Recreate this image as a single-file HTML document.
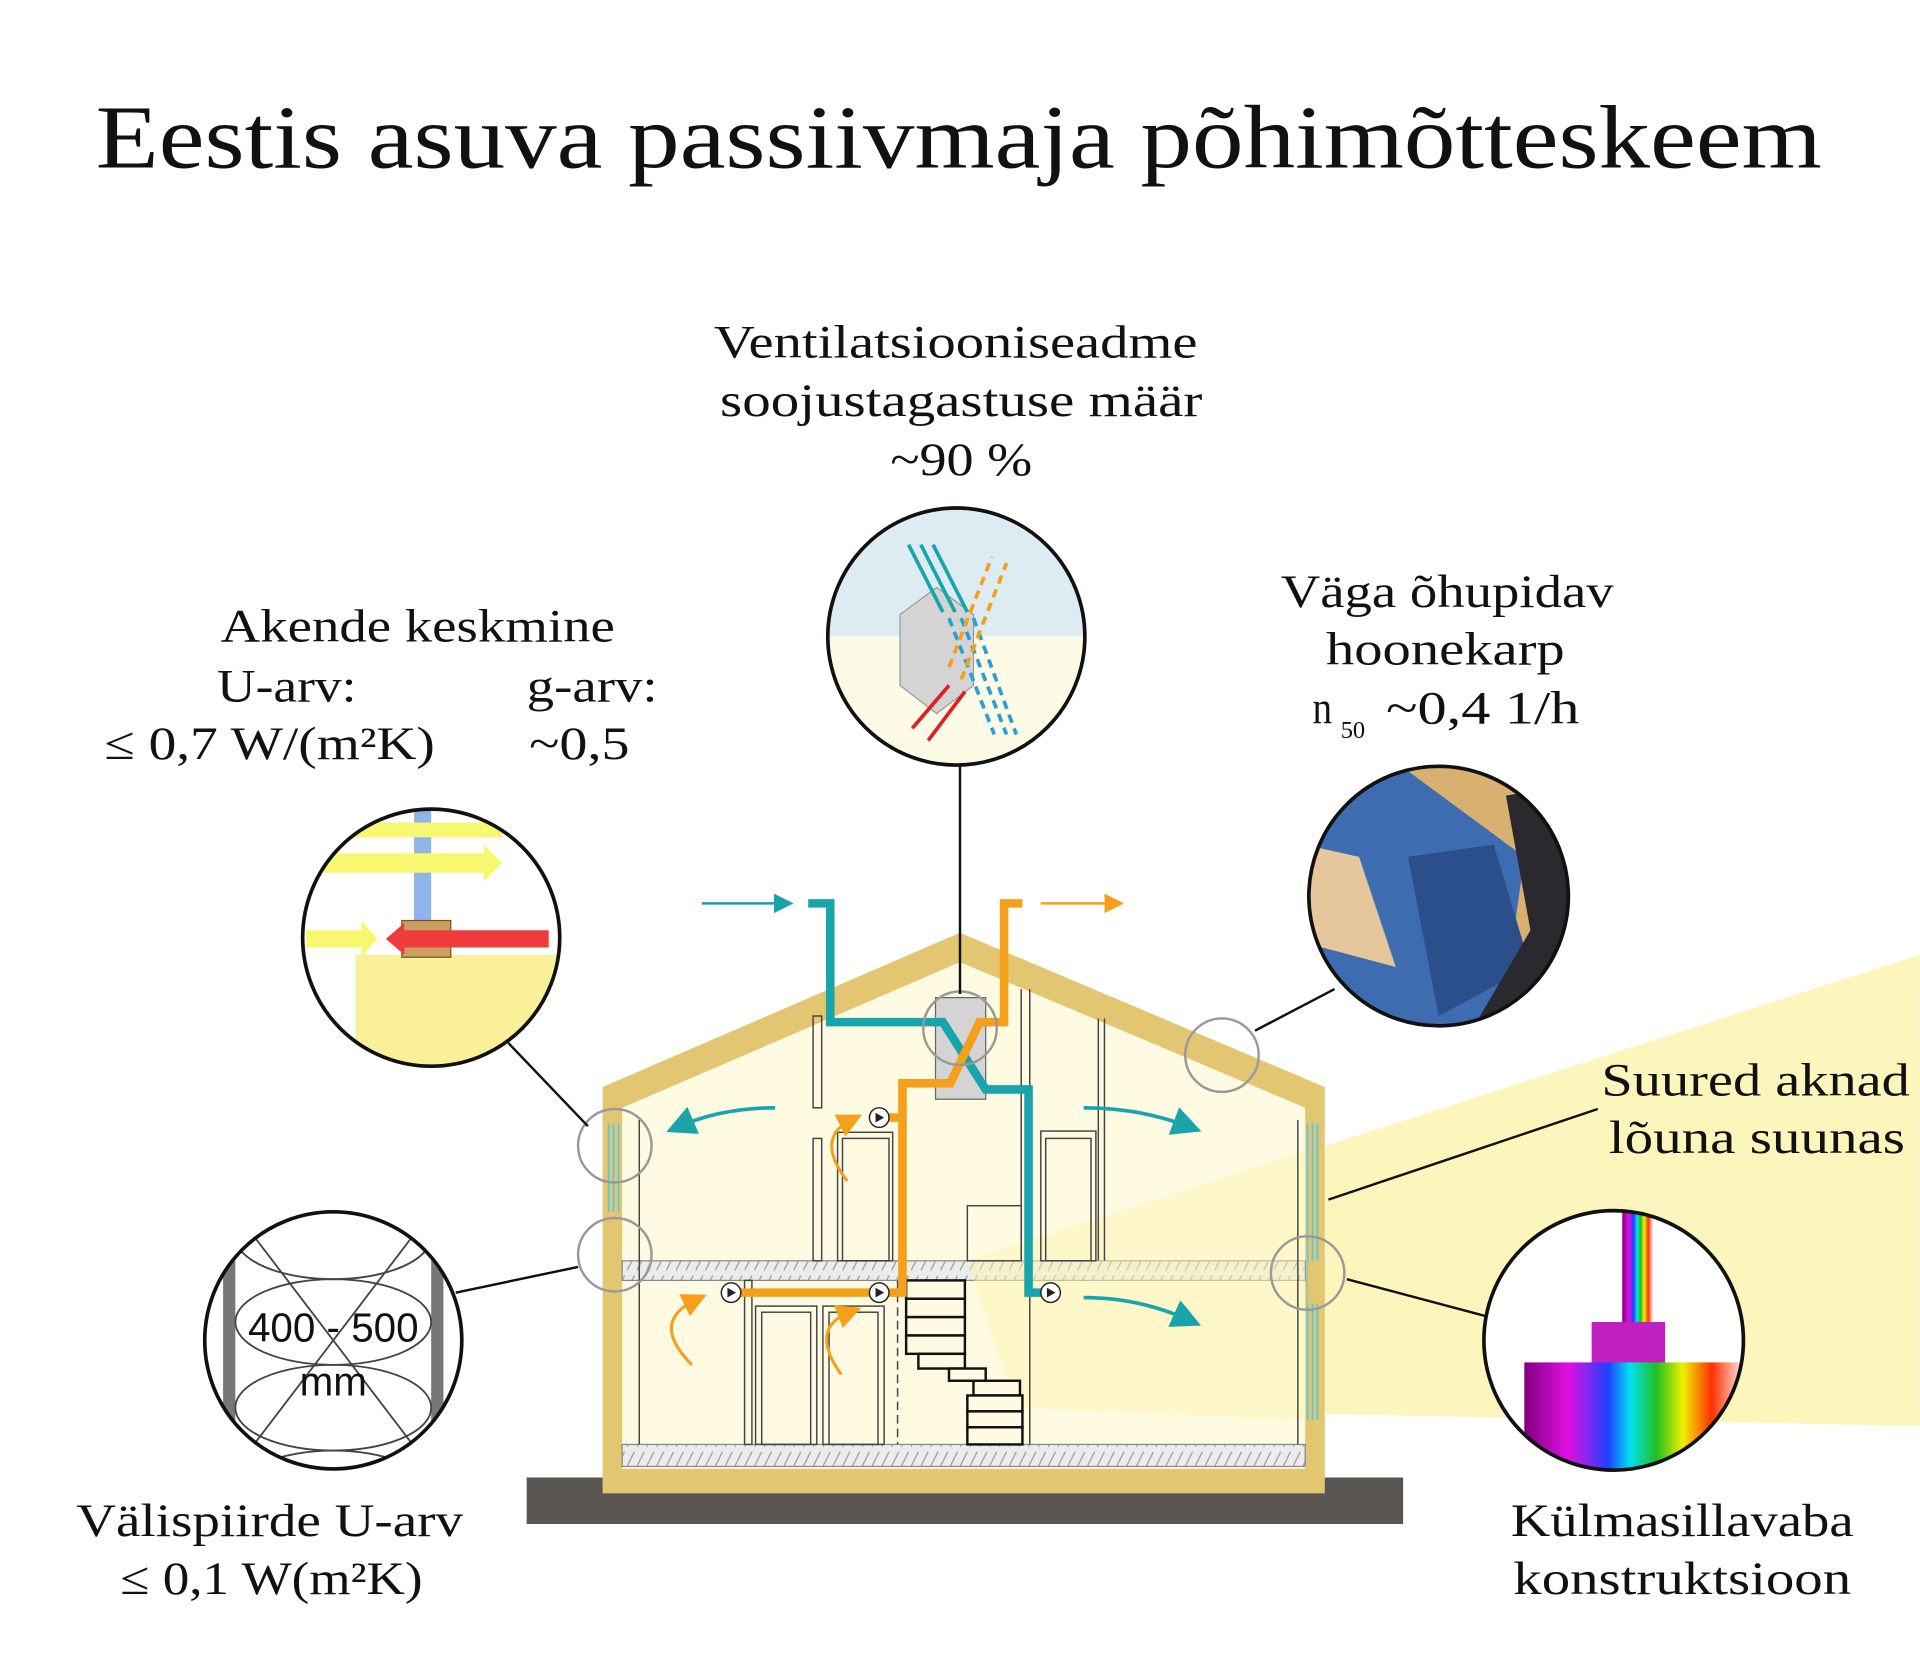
<!DOCTYPE html>
<html><head><meta charset="utf-8"><style>
html,body{margin:0;padding:0;background:#fff}
svg{display:block}
.t{font-family:"Liberation Serif",serif;fill:#111}
</style></head><body>
<svg width="1920" height="1677" viewBox="0 0 1568 1370" xmlns="http://www.w3.org/2000/svg">
<defs>
<pattern id="h" width="8" height="16" patternUnits="userSpaceOnUse"><rect width="8" height="16" fill="#ececec"/><line x1="0" y1="14" x2="6" y2="2" stroke="#999" stroke-width="1"/></pattern>
<clipPath id="c1"><circle cx="781" cy="520" r="105"/></clipPath>
<clipPath id="c2"><circle cx="352" cy="766" r="105"/></clipPath>
<clipPath id="c3"><circle cx="1175" cy="732" r="106"/></clipPath>
<clipPath id="c4"><circle cx="1318" cy="1095" r="106"/></clipPath>
<clipPath id="c5"><circle cx="272" cy="1095" r="105"/></clipPath>
<linearGradient id="rb" x1="0" x2="1" y1="0" y2="0">
<stop offset="0" stop-color="#800080"/><stop offset="0.2" stop-color="#e010e0"/><stop offset="0.38" stop-color="#2040ff"/><stop offset="0.48" stop-color="#00e0f0"/><stop offset="0.6" stop-color="#20c020"/><stop offset="0.72" stop-color="#f0f000"/><stop offset="0.85" stop-color="#ff3000"/><stop offset="1" stop-color="#fff0f0"/></linearGradient>
<marker id="at" markerWidth="8" markerHeight="8" refX="4" refY="4" orient="auto" markerUnits="strokeWidth"><path d="M0,0L8,4L0,8z" fill="#1aa3a8"/></marker>
<marker id="ao" markerWidth="8" markerHeight="8" refX="4" refY="4" orient="auto" markerUnits="strokeWidth"><path d="M0,0L8,4L0,8z" fill="#f5a01a"/></marker>
</defs>

<text class="t" x="78" y="137" font-size="74" textLength="1410" lengthAdjust="spacingAndGlyphs">Eestis asuva passiivmaja põhimõtteskeem</text>

<polygon points="790,1030 1568,780 1568,1165 830,1150" fill="#fcf3b0" opacity="0.85"/>

<rect x="430" y="1207" width="716" height="38" fill="#595553"/>
<polygon points="492,888 784,762 1082,888 1082,1220 492,1220" fill="#e2c672"/>
<polygon points="508,905 784,786 1066,905 1066,1200 508,1200" fill="#fffbe3"/>
<rect x="508" y="1030" width="558" height="16" fill="url(#h)" stroke="#888" stroke-width="1"/>
<rect x="508" y="1180" width="558" height="18" fill="url(#h)" stroke="#888" stroke-width="1"/>
<polygon points="790,1030 1066,940 1066,1160 830,1150" fill="#fcf3b0" opacity="0.5"/>
<g stroke="#5cc8e0" stroke-width="1.5"><line x1="497" y1="918" x2="497" y2="990"/><line x1="501" y1="918" x2="501" y2="990"/><line x1="505" y1="918" x2="505" y2="990"/>
<line x1="1068" y1="918" x2="1068" y2="1160"/><line x1="1072" y1="918" x2="1072" y2="1160"/><line x1="1076" y1="918" x2="1076" y2="1160"/></g>
<rect x="1068" y="1030" width="12" height="35" fill="#e2c672"/>
<g stroke="#444" stroke-width="1.2" fill="none">
<line x1="522" y1="915" x2="522" y2="1180"/><line x1="1060" y1="915" x2="1060" y2="1180"/>
<rect x="664" y="830" width="7" height="75"/><rect x="664" y="930" width="7" height="100"/>
<rect x="684" y="925" width="45" height="105"/><rect x="688" y="930" width="38" height="100"/>
<rect x="850" y="924" width="45" height="106"/><rect x="854" y="930" width="37" height="100"/>
<rect x="790" y="985" width="44" height="45"/>
<line x1="834" y1="808" x2="834" y2="1030"/><line x1="841" y1="808" x2="841" y2="1030"/>
<line x1="897" y1="832" x2="897" y2="1030"/><line x1="902" y1="832" x2="902" y2="1030"/>
<rect x="608" y="1046" width="6" height="134"/><rect x="617" y="1067" width="50" height="113"/><rect x="622" y="1072" width="40" height="108"/>
<rect x="672" y="1067" width="50" height="113"/><rect x="677" y="1072" width="40" height="108"/>
<line x1="733" y1="1046" x2="733" y2="1180" stroke-dasharray="7 4"/>
<line x1="841" y1="1046" x2="841" y2="1180"/>
</g>
<g stroke="#111" stroke-width="2" fill="#fffbe3">
<rect x="740" y="1046" width="48" height="15"/><rect x="740" y="1061" width="48" height="15"/><rect x="740" y="1076" width="48" height="15"/><rect x="740" y="1091" width="48" height="15"/>
<rect x="750" y="1106" width="38" height="12"/><rect x="775" y="1118" width="30" height="10"/><rect x="795" y="1128" width="38" height="12"/>
<rect x="790" y="1140" width="45" height="13"/><rect x="790" y="1153" width="45" height="13"/><rect x="790" y="1166" width="45" height="14"/>
</g>
<rect x="764" y="815" width="41" height="83" fill="#d4d4d4" stroke="#666"/>
<polyline points="660,738 678,738 678,835 770,835 805,890 840,890 840,1056 852,1056" fill="none" stroke="#17a4aa" stroke-width="7"/>
<polyline points="835,738 820,738 820,835 800,835 776,885 737,885 737,1056 600,1056" fill="none" stroke="#f5a01a" stroke-width="7"/>
<line x1="725" y1="913" x2="737" y2="913" stroke="#f5a01a" stroke-width="7"/>
<line x1="573" y1="738" x2="640" y2="738" stroke="#17a4aa" stroke-width="2" marker-end="url(#at)"/>
<line x1="850" y1="738" x2="910" y2="738" stroke="#f5a01a" stroke-width="2" marker-end="url(#ao)"/>
<g fill="#fff" stroke="#222" stroke-width="1.2">
<circle cx="718" cy="913" r="8"/><circle cx="597" cy="1056" r="8"/><circle cx="718" cy="1056" r="8"/><circle cx="858" cy="1056" r="8"/></g>
<g fill="#222"><path d="M715,909L722,913L715,917z"/><path d="M594,1052L601,1056L594,1060z"/><path d="M715,1052L722,1056L715,1060z"/><path d="M855,1052L862,1056L855,1060z"/></g>
<g fill="none" stroke-width="3">
<path d="M633,905 Q590,905 555,920" stroke="#17a4aa" marker-end="url(#at)"/>
<path d="M885,905 Q930,905 970,920" stroke="#17a4aa" marker-end="url(#at)"/>
<path d="M885,1060 Q930,1060 970,1078" stroke="#17a4aa" marker-end="url(#at)"/>
<path d="M692,965 Q665,930 695,915" stroke="#f5a01a" stroke-width="2.5" marker-end="url(#ao)"/>
<path d="M565,1115 Q530,1080 568,1062" stroke="#f5a01a" stroke-width="2.5" marker-end="url(#ao)"/>
<path d="M687,1123 Q660,1085 694,1072" stroke="#f5a01a" stroke-width="2.5" marker-end="url(#ao)"/>
</g>
<g fill="none" stroke="#999" stroke-width="2">
<circle cx="502" cy="936" r="30"/><circle cx="502" cy="1025" r="30"/><circle cx="784" cy="840" r="30"/><circle cx="998" cy="862" r="30"/><circle cx="1068" cy="1040" r="30"/></g>

<g stroke="#111" stroke-width="2">
<line x1="784" y1="626" x2="784" y2="812"/>
<line x1="415" y1="852" x2="480" y2="920"/>
<line x1="1090" y1="808" x2="1025" y2="842"/>
<line x1="1085" y1="980" x2="1305" y2="906"/>
<line x1="1100" y1="1045" x2="1213" y2="1075"/>
<line x1="372" y1="1056" x2="472" y2="1035"/>
</g>

<g clip-path="url(#c1)">
<rect x="670" y="410" width="230" height="110" fill="#dcecf2"/><rect x="670" y="520" width="230" height="110" fill="#fdfae6"/>
<polygon points="735,502 765,480 795,502 795,560 765,583 735,560" fill="#d4d4d4" stroke="#999"/>
<g stroke="#17a4aa" stroke-width="3"><line x1="742" y1="445" x2="770" y2="500"/><line x1="752" y1="445" x2="780" y2="500"/><line x1="762" y1="445" x2="790" y2="500"/></g>
<g stroke="#2a9fd6" stroke-width="3" stroke-dasharray="7 5"><line x1="775" y1="505" x2="812" y2="600"/><line x1="785" y1="505" x2="822" y2="600"/><line x1="795" y1="505" x2="830" y2="600"/></g>
<g stroke="#e02020" stroke-width="3"><line x1="745" y1="595" x2="775" y2="560"/><line x1="758" y1="605" x2="788" y2="565"/></g>
<g stroke="#f5a01a" stroke-width="3" stroke-dasharray="7 5"><line x1="775" y1="545" x2="810" y2="455"/><line x1="785" y1="555" x2="822" y2="460"/></g>
</g>
<circle cx="781" cy="520" r="105" fill="none" stroke="#111" stroke-width="3"/>

<g clip-path="url(#c2)">
<rect x="245" y="660" width="215" height="215" fill="#fff"/>
<rect x="290" y="780" width="170" height="100" fill="#fbf09a"/>
<rect x="338" y="660" width="14" height="100" fill="#8fb4e8"/>
<rect x="250" y="672" width="160" height="12" fill="#f8f870"/>
<polygon points="250,697 395,697 395,690 410,705 395,720 395,713 250,713" fill="#f8f870"/>
<polygon points="250,760 295,760 295,752 308,767 295,782 295,774 250,774" fill="#f8f870"/>
<rect x="328" y="752" width="40" height="30" fill="#c9a060" stroke="#7a5020"/>
<polygon points="448,760 330,760 330,754 315,767 330,780 330,774 448,774" fill="#ef3b3b"/>
</g>
<circle cx="352" cy="766" r="105" fill="none" stroke="#111" stroke-width="3"/>

<g clip-path="url(#c3)">
<rect x="1065" y="620" width="220" height="225" fill="#d8b070"/>
<polygon points="1065,650 1150,630 1245,700 1225,845 1120,845 1065,780" fill="#3d6db0"/>
<polygon points="1150,700 1220,690 1250,790 1175,830" fill="#2a4f8a"/>
<polygon points="1230,650 1285,640 1285,845 1200,845 1250,760" fill="#2a2a2e"/>
<polygon points="1065,690 1110,700 1140,790 1065,770" fill="#e6c79b"/>
</g>
<circle cx="1175" cy="732" r="106" fill="none" stroke="#111" stroke-width="3"/>

<g clip-path="url(#c4)">
<rect x="1210" y="985" width="220" height="220" fill="#fff"/>
<rect x="1325" y="985" width="25" height="120" fill="url(#rb)"/>
<rect x="1300" y="1080" width="60" height="40" fill="#c020c0"/>
<rect x="1245" y="1113" width="180" height="95" fill="url(#rb)"/>
</g>
<circle cx="1318" cy="1095" r="106" fill="none" stroke="#111" stroke-width="3"/>

<g clip-path="url(#c5)">
<rect x="165" y="990" width="215" height="215" fill="#fff"/>
<rect x="182" y="990" width="10" height="215" fill="#777"/>
<rect x="352" y="990" width="10" height="215" fill="#777"/>
<g fill="none" stroke="#444" stroke-width="1.5">
<ellipse cx="272" cy="1010" rx="80" ry="35"/><ellipse cx="272" cy="1080" rx="80" ry="35"/><ellipse cx="272" cy="1150" rx="80" ry="35"/><ellipse cx="272" cy="1220" rx="80" ry="35"/>
<line x1="192" y1="990" x2="352" y2="1200"/><line x1="352" y1="990" x2="192" y2="1200"/></g>
</g>
<circle cx="272" cy="1095" r="105" fill="none" stroke="#111" stroke-width="3"/>
<text x="272" y="1096" font-family="Liberation Sans, sans-serif" font-size="33" text-anchor="middle" fill="#111">400 - 500</text>
<text x="272" y="1140" font-family="Liberation Sans, sans-serif" font-size="33" text-anchor="middle" fill="#111">mm</text>

<g class="t" font-size="38">
<text x="583" y="292" textLength="395" lengthAdjust="spacingAndGlyphs">Ventilatsiooniseadme</text>
<text x="588" y="340" textLength="394" lengthAdjust="spacingAndGlyphs">soojustagastuse määr</text>
<text x="727" y="388" textLength="116" lengthAdjust="spacingAndGlyphs">~90 %</text>
<text x="180" y="524" textLength="322" lengthAdjust="spacingAndGlyphs">Akende keskmine</text>
<text x="177" y="573" textLength="114" lengthAdjust="spacingAndGlyphs">U-arv:</text>
<text x="430" y="573" textLength="107" lengthAdjust="spacingAndGlyphs">g-arv:</text>
<text x="85" y="620" textLength="270" lengthAdjust="spacingAndGlyphs">≤ 0,7 W/(m²K)</text>
<text x="432" y="620" textLength="82" lengthAdjust="spacingAndGlyphs">~0,5</text>
<text x="1046" y="496" textLength="272" lengthAdjust="spacingAndGlyphs">Väga õhupidav</text>
<text x="1083" y="543" textLength="195" lengthAdjust="spacingAndGlyphs">hoonekarp</text>
<text x="62" y="1255" textLength="316" lengthAdjust="spacingAndGlyphs">Välispiirde U-arv</text>
<text x="98" y="1302" textLength="247" lengthAdjust="spacingAndGlyphs">≤ 0,1 W(m²K)</text>
<text x="1234" y="1255" textLength="280" lengthAdjust="spacingAndGlyphs">Külmasillavaba</text>
<text x="1236" y="1302" textLength="276" lengthAdjust="spacingAndGlyphs">konstruktsioon</text>
<text x="1308" y="895" textLength="252" lengthAdjust="spacingAndGlyphs">Suured aknad</text>
<text x="1314" y="942" textLength="242" lengthAdjust="spacingAndGlyphs">lõuna suunas</text>
<text x="1072" y="591" textLength="16" lengthAdjust="spacingAndGlyphs">n</text>
<text x="1095" y="603" font-size="20">50</text>
<text x="1132" y="591" textLength="158" lengthAdjust="spacingAndGlyphs">~0,4 1/h</text>
</g>
</svg>
</body></html>
